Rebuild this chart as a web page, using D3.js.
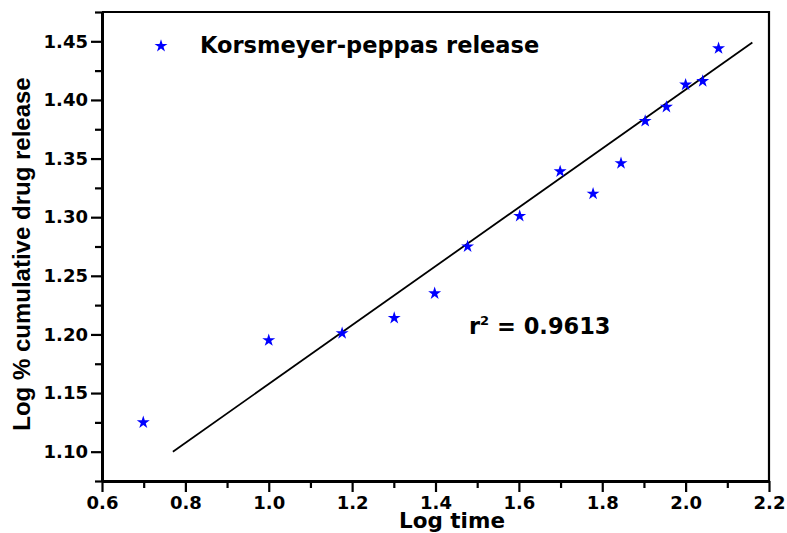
<!DOCTYPE html>
<html>
<head>
<meta charset="utf-8">
<script src="https://cdn.jsdelivr.net/npm/d3@7"></script>
<style>
  body { margin: 0; background: #fff; }
  text { font-family: "DejaVu Sans", sans-serif; font-weight: bold; fill: #000; }
</style>
</head>
<body>
<div id="chart"></div>
<script>
// log time (x) and log % cumulative drug release (y)
const logTime = [0.699, 1.0, 1.176, 1.301, 1.398, 1.477, 1.602, 1.699, 1.778, 1.845, 1.903, 1.954, 2.0, 2.041, 2.079];
const logRelease = [1.125, 1.195, 1.201, 1.214, 1.235, 1.275, 1.301, 1.339, 1.320, 1.346, 1.382, 1.394, 1.413, 1.416, 1.444];
// fitted line end points
const fitX = [0.77, 2.16];
const fitY = [1.100, 1.449];
const xTicks = [0.6, 0.8, 1.0, 1.2, 1.4, 1.6, 1.8, 2.0, 2.2];
const xMinor = [0.7, 0.9, 1.1, 1.3, 1.5, 1.7, 1.9, 2.1];
const yTicks = [1.10, 1.15, 1.20, 1.25, 1.30, 1.35, 1.40, 1.45];
const yMinor = [1.075, 1.125, 1.175, 1.225, 1.275, 1.325, 1.375, 1.425, 1.475];

const w = 787, h = 533;
const mLeft = 102, mRight = 769, mTop = 12, mBottom = 481;

const svg = d3.select("#chart").append("svg")
  .attr("width", w)
  .attr("height", h);

const x = d3.scaleLinear().domain([0.6, 2.2]).range([mLeft, mRight]);
const y = d3.scaleLinear().domain([1.075, 1.475]).range([mBottom, mTop]);

// frame top/right
svg.append("path")
  .attr("d", `M${mLeft},${mTop}H${mRight}V${mBottom}`)
  .attr("fill", "none")
  .attr("stroke", "#000")
  .attr("stroke-width", 2.2);

// minor ticks
svg.append("g")
  .attr("transform", `translate(0,${mBottom})`)
  .call(d3.axisBottom(x).tickValues(xMinor).tickSize(7).tickFormat(""))
  .call(g => g.select(".domain").remove())
  .call(g => g.selectAll("line").attr("stroke-width", 2.2));

svg.append("g")
  .attr("transform", `translate(${mLeft},0)`)
  .call(d3.axisLeft(y).tickValues(yMinor).tickSize(7).tickFormat(""))
  .call(g => g.select(".domain").remove())
  .call(g => g.selectAll("line").attr("stroke-width", 2.2));

// major axes
const xAxis = svg.append("g")
  .attr("transform", `translate(0,${mBottom})`)
  .call(d3.axisBottom(x).tickValues(xTicks).tickSize(11).tickSizeOuter(0).tickPadding(4).tickFormat(d3.format(".1f")));

const yAxis = svg.append("g")
  .attr("transform", `translate(${mLeft},0)`)
  .call(d3.axisLeft(y).tickValues(yTicks).tickSize(11).tickSizeOuter(0).tickPadding(3).tickFormat(d3.format(".2f")));

[xAxis, yAxis].forEach(a => {
  a.select(".domain").attr("stroke-width", 3);
  a.selectAll(".tick line").attr("stroke-width", 2.2);
  a.selectAll("text")
    .style("font-size", "18px")
    .style("font-family", "DejaVu Sans")
    .style("font-weight", "bold");
});

// fitted line
svg.append("line")
  .attr("x1", x(fitX[0])).attr("y1", y(fitY[0]))
  .attr("x2", x(fitX[1])).attr("y2", y(fitY[1]))
  .attr("stroke", "#000")
  .attr("stroke-width", 1.8);

// data points
const star = d3.symbol().type(d3.symbolStar).size(52);
svg.append("g").selectAll("path")
  .data(logTime)
  .enter()
  .append("path")
  .attr("d", star)
  .attr("transform", (d, i) => `translate(${x(d)},${y(logRelease[i])})`)
  .attr("fill", "#0000ff");

// legend
svg.append("path")
  .attr("d", star)
  .attr("transform", "translate(161,46)")
  .attr("fill", "#0000ff");
svg.append("text")
  .attr("x", 200)
  .attr("y", 53)
  .style("font-size", "22.5px")
  .text("Korsmeyer-peppas release");

// r squared
const r2 = svg.append("text")
  .attr("x", 469)
  .attr("y", 334)
  .style("font-size", "22.5px");
r2.append("tspan").text("r");
r2.append("tspan").attr("dy", -9).style("font-size", "13px").text("2");
r2.append("tspan").attr("dy", 9).text(" = 0.9613");

// axis titles
svg.append("text")
  .attr("x", 452)
  .attr("y", 528)
  .attr("text-anchor", "middle")
  .style("font-size", "21.5px")
  .text("Log time");

svg.append("text")
  .attr("transform", "translate(30,254) rotate(-90)")
  .attr("text-anchor", "middle")
  .style("font-family", "Liberation Sans, Arial, sans-serif")
  .style("font-size", "24px")
  .text("Log % cumulative drug release");
</script>
</body>
</html>
